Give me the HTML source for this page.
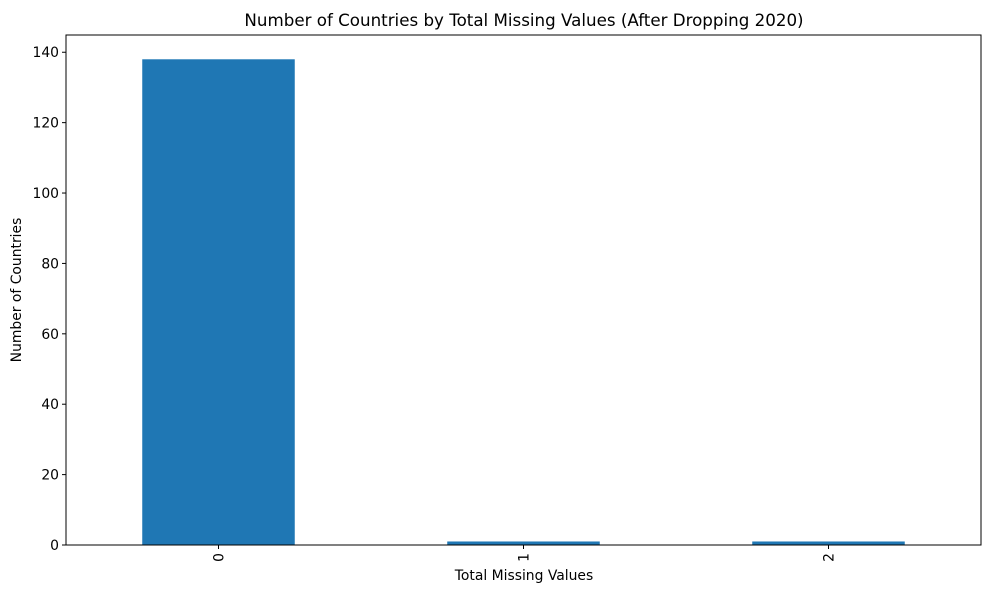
<!DOCTYPE html>
<html><head><meta charset="utf-8"><style>
html,body{margin:0;padding:0;background:#fff;}
svg{display:block;font-family:"DejaVu Sans","Liberation Sans",sans-serif;}
</style></head><body>
<svg id="chart" width="992" height="592">
<text x="524" y="26" text-anchor="middle" font-size="16.7" fill="#000">Number of Countries by Total Missing Values (After Dropping 2020)</text>
<g id="yaxis"></g><g id="xaxis"></g><g id="bars"></g>
<rect x="66" y="35" width="915" height="510" fill="none" stroke="#000" stroke-width="1"/>
<text x="524" y="580" text-anchor="middle" font-size="13.9">Total Missing Values</text>
<text transform="translate(21,290) rotate(-90)" text-anchor="middle" font-size="13.9">Number of Countries</text>
</svg>
<script>
const categories = ["0","1","2"];
const values = [138,1,1];
const yTicks = [0,20,40,60,80,100,120,140];
const yMax = 144.9;
const L=66,R=981,T=35,B=545;
const ns="http://www.w3.org/2000/svg";
const y=v=>B-(v/yMax)*(B-T);
const step=(R-L)/categories.length;
const x=i=>L+step*(i+0.5);
function mk(tag,attrs,parent){const e=document.createElementNS(ns,tag);for(const k in attrs)e.setAttribute(k,attrs[k]);parent.appendChild(e);return e;}
const ya=document.getElementById('yaxis'),xa=document.getElementById('xaxis'),bg=document.getElementById('bars');
yTicks.forEach(t=>{
  const l=mk('line',{x1:L-4,x2:L,y1:y(t),y2:y(t),stroke:'#000'},ya);
  
  
  const tx=mk('text',{x:L-7,y:y(t)+5,'text-anchor':'end','font-size':'13.9'},ya);
  tx.textContent=t;
  
  
});
categories.forEach((c,i)=>{
  const bw=step*0.5;
  const r=mk('rect',{x:x(i)-bw/2,y:y(values[i]),width:bw,height:B-y(values[i]),fill:'#1f77b4'},bg);
  
  
  const l=mk('line',{x1:x(i),x2:x(i),y1:B,y2:B+4,stroke:'#000'},xa);
  
  
  const tx=mk('text',{transform:`translate(${x(i)+5},${B+8}) rotate(-90)`,'text-anchor':'end','font-size':'13.9'},xa);
  tx.textContent=c;
  
  
});
</script>
</body></html>
